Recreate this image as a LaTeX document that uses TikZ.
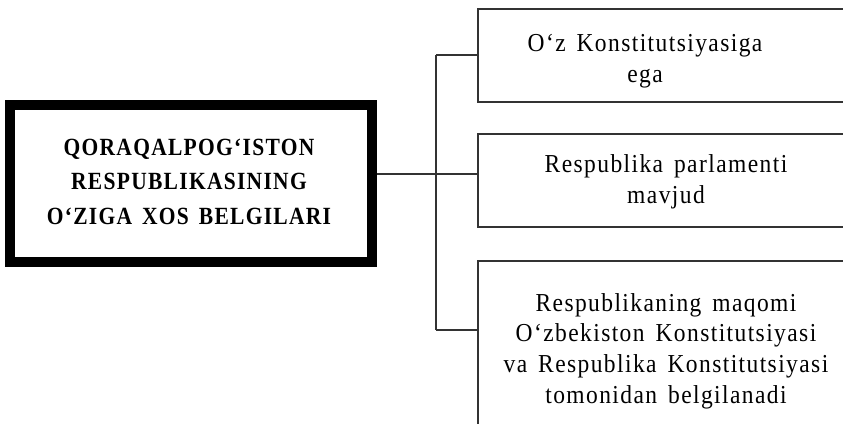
\documentclass[tikz,border=0pt]{standalone}
\usepackage{graphicx}
\usepackage{fontspec}
\setmainfont{Liberation Serif}
\newfontfamily\spacedfont[LetterSpace=6,WordSpace=1.5]{Liberation Serif}
\newfontfamily\spacedbold[LetterSpace=6,WordSpace=1.5]{Liberation Serif Bold}
\newcommand\vstr[2]{\scalebox{1}[#1]{\begin{tabular}{@{}c@{}}#2\end{tabular}}}
\begin{document}
\begin{tikzpicture}[x=1pt,y=-1pt,
  mainbox/.style={draw=black,line width=10pt,minimum width=362pt,minimum height=157pt,inner sep=0pt},
  sidebox/.style={draw=black!80,line width=1.3pt,minimum width=376pt,inner sep=0pt},
  maintext/.style={inner sep=0pt,font=\spacedbold\fontsize{21.5}{30.4}\selectfont},
  sidetext/.style={inner sep=0pt,font=\spacedfont\fontsize{23.5}{27.9}\selectfont},
  conn/.style={draw=black!80,line width=1.3pt}]
\useasboundingbox (0,0) rectangle (843,423);
\clip (0,0) rectangle (843,423);
\node[mainbox] (main) at (191,183.5) {};
\node[maintext] (maint) at (189,183) {\vstr{1.15}{QORAQALPOG‘ISTON\\RESPUBLIKASINING\\O‘ZIGA XOS BELGILARI}};
\node[sidebox,minimum height=93pt] (b1) at (666,55.5) {};
\node[sidebox,minimum height=93pt] (b2) at (666,180.5) {};
\node[sidebox,minimum height=170pt] (b3) at (666,346) {};
\node[sidetext] (t1) at (645,61) {\vstr{1.1}{O‘z Konstitutsiyasiga\\ega}};
\node[sidetext] (t2) at (666,182) {\vstr{1.1}{Respublika parlamenti\\mavjud}};
\node[sidetext] (t3) at (666,351) {\vstr{1.1}{Respublikaning maqomi\\O‘zbekiston Konstitutsiyasi\\va Respublika Konstitutsiyasi\\tomonidan belgilanadi}};
\coordinate (top) at (436,55);
\coordinate (mid) at (436,174);
\coordinate (bot) at (436,330);
\draw[conn] (main.east |- mid) -- (mid);
\draw[conn] (top) -- (bot);
\draw[conn] (top) -- (top -| b1.west);
\draw[conn] (mid) -- (mid -| b2.west);
\draw[conn] (bot) -- (bot -| b3.west);
\end{tikzpicture}
\end{document}
